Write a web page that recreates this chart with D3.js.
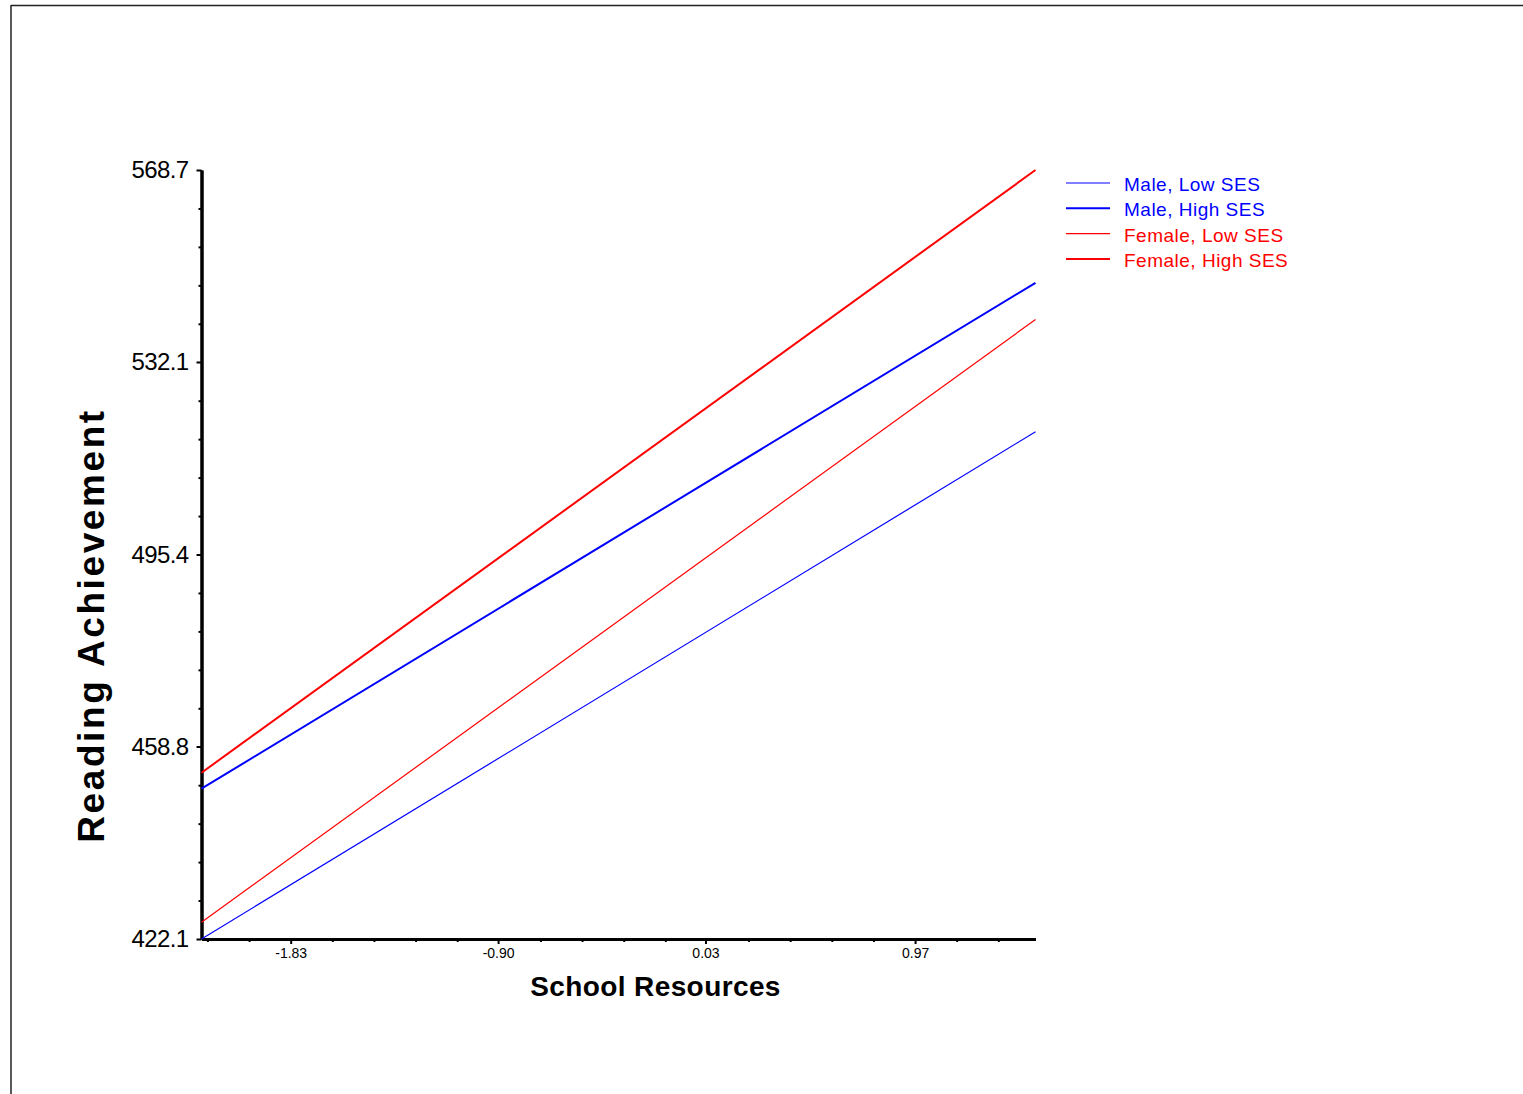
<!DOCTYPE html>
<html>
<head>
<meta charset="utf-8">
<script src="https://cdn.jsdelivr.net/npm/d3@7"></script>
<style>
  html, body { margin: 0; padding: 0; background: #fff; }
  svg { display: block; }
  text { font-family: "Liberation Sans", Arial, sans-serif; }
</style>
</head>
<body>
<svg id="chart" width="1523" height="1094"></svg>
<script>
// ---- data ----
const xEnds = [-2.23, 1.51];
const seriesNames = ["Male, Low SES", "Male, High SES", "Female, Low SES", "Female, High SES"];
const maleLow = [422.1, 518.8];
const maleHigh = [450.75, 547.2];
const femaleLow = [425.3, 540.2];
const femaleHigh = [453.8, 568.7];
const xTickLabels = [-1.83, -0.90, 0.03, 0.97];
const yTickLabels = [422.1, 458.8, 495.4, 532.1, 568.7];
const xTitle = "School Resources";
const yTitle = "Reading Achievement";

(function () {
const series = [
  { name: seriesNames[0], values: maleLow, color: "#0000ff", width: 1.2 },
  { name: seriesNames[1], values: maleHigh, color: "#0000ff", width: 2 },
  { name: seriesNames[2], values: femaleLow, color: "#ff0000", width: 1.2 },
  { name: seriesNames[3], values: femaleHigh, color: "#ff0000", width: 2 }
];

const svg = d3.select("#chart");

// page frame
svg.append("line").attr("x1", 11).attr("y1", 5.5).attr("x2", 1523).attr("y2", 5.5)
  .attr("stroke", "#222").attr("stroke-width", 1.5);
svg.append("line").attr("x1", 11).attr("y1", 5).attr("x2", 11).attr("y2", 1094)
  .attr("stroke", "#222").attr("stroke-width", 1.5);

const pLeft = 201.5, pRight = 1035.5, pTop = 170, pBottom = 939;
const x = d3.scaleLinear().domain(xEnds).range([pLeft, pRight]);
const y = d3.scaleLinear().domain([yTickLabels[0], yTickLabels[yTickLabels.length - 1]]).range([pBottom, pTop]);

// minor ticks
const xStep = (xTickLabels[xTickLabels.length - 1] - xTickLabels[0]) / (xTickLabels.length - 1);
const xMinor = [];
for (let k = -10; k <= 30; k++) {
  const v = xTickLabels[0] + k * xStep / 5;
  if (v >= xEnds[0] && v <= xEnds[1] && k % 5 !== 0) xMinor.push(v);
}
const yStep = (yTickLabels[yTickLabels.length - 1] - yTickLabels[0]) / (yTickLabels.length - 1);
const yMinor = [];
for (let k = 1; k < (yTickLabels.length - 1) * 5; k++) {
  if (k % 5 !== 0) yMinor.push(yTickLabels[0] + k * yStep / 5);
}

// y axis
const gy = svg.append("g").attr("transform", `translate(${pLeft},0)`);
gy.call(d3.axisLeft(y).tickValues(yMinor).tickSize(3).tickSizeOuter(0).tickFormat(""));
gy.append("g").call(d3.axisLeft(y).tickValues(yTickLabels).tickSize(5).tickSizeOuter(0)
  .tickPadding(8).tickFormat(d => d.toFixed(1)));
gy.selectAll("path.domain").attr("stroke", "#000").attr("stroke-width", 3);
gy.selectAll(".tick line").attr("stroke", "#000").attr("stroke-width", 2);
gy.selectAll(".tick text").attr("fill", "#000").style("font-size", "24px")
  .style("letter-spacing", "-0.6px");

// x axis
const gx = svg.append("g").attr("transform", `translate(0,${pBottom})`);
gx.call(d3.axisBottom(x).tickValues(xMinor).tickSize(3).tickSizeOuter(0).tickFormat(""));
gx.append("g").call(d3.axisBottom(x).tickValues(xTickLabels).tickSize(5).tickSizeOuter(0)
  .tickPadding(4).tickFormat(d => d.toFixed(2)));
gx.selectAll("path.domain").attr("stroke", "#000").attr("stroke-width", 3);
gx.selectAll(".tick line").attr("stroke", "#000").attr("stroke-width", 2);
gx.selectAll(".tick text").attr("fill", "#000").style("font-size", "14px");

// axis titles
svg.append("text").attr("x", (pLeft + pRight) / 2 + 37).attr("y", 996)
  .attr("text-anchor", "middle").style("font-size", "28px").style("font-weight", "bold")
  .style("letter-spacing", "0.4px").attr("fill", "#000").text(xTitle);
svg.append("text").attr("transform", "translate(103.5,625.5) rotate(-90)")
  .attr("text-anchor", "middle").style("font-size", "37px").style("font-weight", "bold")
  .style("letter-spacing", "2.6px").attr("fill", "#000").text(yTitle);

// lines
const line = d3.line().x((d, i) => x(xEnds[i])).y(d => y(d));
svg.append("g").selectAll("path").data(series).join("path")
  .attr("d", d => line(d.values)).attr("fill", "none")
  .attr("stroke", d => d.color).attr("stroke-width", d => d.width);

// legend
const lg = svg.append("g");
const rowY = i => 183 + i * 25.3;
lg.selectAll("line").data(series).join("line")
  .attr("x1", 1066).attr("x2", 1110).attr("y1", (d, i) => rowY(i)).attr("y2", (d, i) => rowY(i))
  .attr("stroke", d => d.color).attr("stroke-width", d => d.width);
lg.selectAll("text").data(series).join("text")
  .attr("x", 1124).attr("y", (d, i) => rowY(i) + 8)
  .style("font-size", "19px").style("letter-spacing", "0.5px")
  .attr("fill", d => d.color).text(d => d.name);
})();
</script>
</body>
</html>
